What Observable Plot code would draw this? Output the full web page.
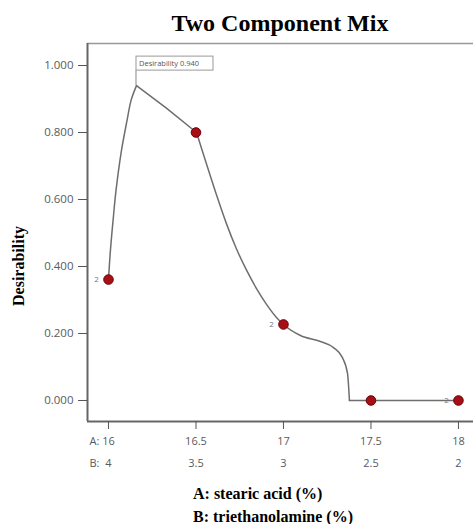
<!DOCTYPE html>
<html>
<head>
<meta charset="utf-8">
<script src="https://cdn.jsdelivr.net/npm/d3@7"></script>
<script src="https://cdn.jsdelivr.net/npm/@observablehq/plot@0.6"></script>
<style>
  html, body { margin: 0; padding: 0; background: #fff; }
  #wrap { position: relative; width: 473px; height: 524px; overflow: hidden; }
  #title { height: 40px; box-sizing: border-box; padding-left: 87px; text-align: center;
    font: bold 24px "Liberation Serif", "Times New Roman", serif; line-height: 46px; color: #000; }
  #caption { box-sizing: border-box; padding: 2px 0 0 193px;
    font: bold 16px "Liberation Serif", "Times New Roman", serif; line-height: 23px; color: #000; }
  #ylabel { position: absolute; left: 19px; top: 266px; transform: translate(-50%, -50%) rotate(-90deg);
    font: bold 16px "Liberation Serif", "Times New Roman", serif; white-space: nowrap; color: #000; }
  svg { display: block; }
</style>
</head>
<body>
<div id="wrap">
  <div id="title">Two Component Mix</div>
  <div id="chart"></div>
  <div id="caption"><div>A: stearic acid (%)</div><div>B: triethanolamine (%)</div></div>
  <div id="ylabel">Desirability</div>
</div>
<script>
// Design points
const pointA = [16, 16.5, 17, 17.5, 18];
const pointD = [0.361, 0.800, 0.227, 0.000, 0.000];
const pointReps = ["2", "", "2", "", "2"];

// Axis ticks
const tickA = [16, 16.5, 17, 17.5, 18];
const tickALabels = ["16", "16.5", "17", "17.5", "18"];
const tickBLabels = ["4", "3.5", "3", "2.5", "2"];
const tickY = [0, 0.2, 0.4, 0.6, 0.8, 1.0];

// Desirability trace
const riseA = [16.000, 16.011, 16.026, 16.043, 16.074, 16.106, 16.129, 16.160];
const riseD = [0.361, 0.448, 0.537, 0.627, 0.746, 0.836, 0.896, 0.940];
const topA = [16.160, 16.331, 16.503];
const topD = [0.940, 0.873, 0.800];
const fallA = [16.503, 16.560, 16.617, 16.674, 16.731, 16.789, 16.846, 16.903, 16.960, 17.000, 17.097, 17.211, 17.286, 17.337, 17.366, 17.377];
const fallD = [0.800, 0.706, 0.614, 0.528, 0.453, 0.389, 0.334, 0.287, 0.248, 0.227, 0.194, 0.176, 0.158, 0.128, 0.081, 0.000];
const floorA = [17.377, 18.000];
const floorD = [0.000, 0.000];

// Optimum annotation
const peakA = 16.160;
const peakD = 0.940;
const peakLabel = "Desirability 0.940";

const xDomain = [15.88, 18.086];
const yDomain = [-0.0627, 1.0657];

const zip = (a, b) => a.map((v, i) => ({a: v, d: b[i]}));
const points = pointA.map((a, i) => ({a, d: pointD[i], rep: pointReps[i]}));
const ticks = tickA.map((a, i) => ({a, la: tickALabels[i], lb: tickBLabels[i]}));

const annotation = (index, scales) => {
  const x = scales.x(peakA), y = scales.y(peakD);
  const g = d3.create("svg:g");
  g.append("line").attr("x1", x).attr("x2", x).attr("y1", y).attr("y2", y - 15)
    .attr("stroke", "#888").attr("stroke-width", 1);
  g.append("rect").attr("x", x).attr("y", y - 29).attr("width", 77).attr("height", 14)
    .attr("fill", "#fff").attr("stroke", "#999").attr("stroke-width", 1);
  g.append("text").attr("x", x + 3).attr("y", y - 22).attr("dy", "0.35em")
    .attr("text-anchor", "start")
    .attr("font-family", "Open Sans, sans-serif").attr("font-size", 7.5).attr("fill", "#555")
    .text(peakLabel);
  return g.node();
};

const fontFam = "'Open Sans', sans-serif";
const lineColor = "#6e6e6e";

const chart = Plot.plot({
  width: 473,
  height: 440,
  marginTop: 3,
  marginBottom: 59,
  marginLeft: 87,
  marginRight: 0,
  style: {fontFamily: fontFam, background: "#fff"},
  x: {domain: xDomain, axis: null},
  y: {domain: yDomain, axis: null},
  marks: [
    Plot.ruleY([yDomain[1]], {stroke: "#999", strokeWidth: 1.5}),
    Plot.ruleY([yDomain[0]], {stroke: "#666", strokeWidth: 2}),
    Plot.ruleX([xDomain[0]], {stroke: "#666", strokeWidth: 2}),
    Plot.axisY({ticks: tickY, tickFormat: d3.format(".3f"), tickSize: 9, tickPadding: 5,
      fontSize: 11.5, color: "#5a5a5a", stroke: "#555", label: null}),
    Plot.axisX({ticks: tickA, tickFormat: () => "", tickSize: 8, stroke: "#555", label: null}),
    Plot.text(ticks, {x: "a", text: "la", frameAnchor: "bottom", dy: 23, fontSize: 11, fill: "#5a5a5a"}),
    Plot.text(ticks, {x: "a", text: "lb", frameAnchor: "bottom", dy: 45, fontSize: 11, fill: "#5a5a5a"}),
    Plot.text(["A:"], {frameAnchor: "bottom-left", dx: 2, dy: 23, textAnchor: "start", fontSize: 11, fill: "#5a5a5a"}),
    Plot.text(["B:"], {frameAnchor: "bottom-left", dx: 2, dy: 45, textAnchor: "start", fontSize: 11, fill: "#5a5a5a"}),
    Plot.line(zip(riseA, riseD), {x: "a", y: "d", curve: "catmull-rom", stroke: lineColor, strokeWidth: 1.5}),
    Plot.line(zip(topA, topD), {x: "a", y: "d", curve: "linear", stroke: lineColor, strokeWidth: 1.5}),
    Plot.line(zip(fallA, fallD), {x: "a", y: "d", curve: "monotone-x", stroke: lineColor, strokeWidth: 1.5}),
    Plot.line(zip(floorA, floorD), {x: "a", y: "d", curve: "linear", stroke: lineColor, strokeWidth: 1.5}),
    annotation,
    Plot.text(points, {x: "a", y: "d", text: "rep", dx: -12, fontSize: 8, fill: "#777"}),
    Plot.dot(points, {x: "a", y: "d", r: 4.8, fill: "#a50f15", stroke: "#6d0008", strokeWidth: 1})
  ]
});
document.getElementById("chart").appendChild(chart);
</script>
</body>
</html>
